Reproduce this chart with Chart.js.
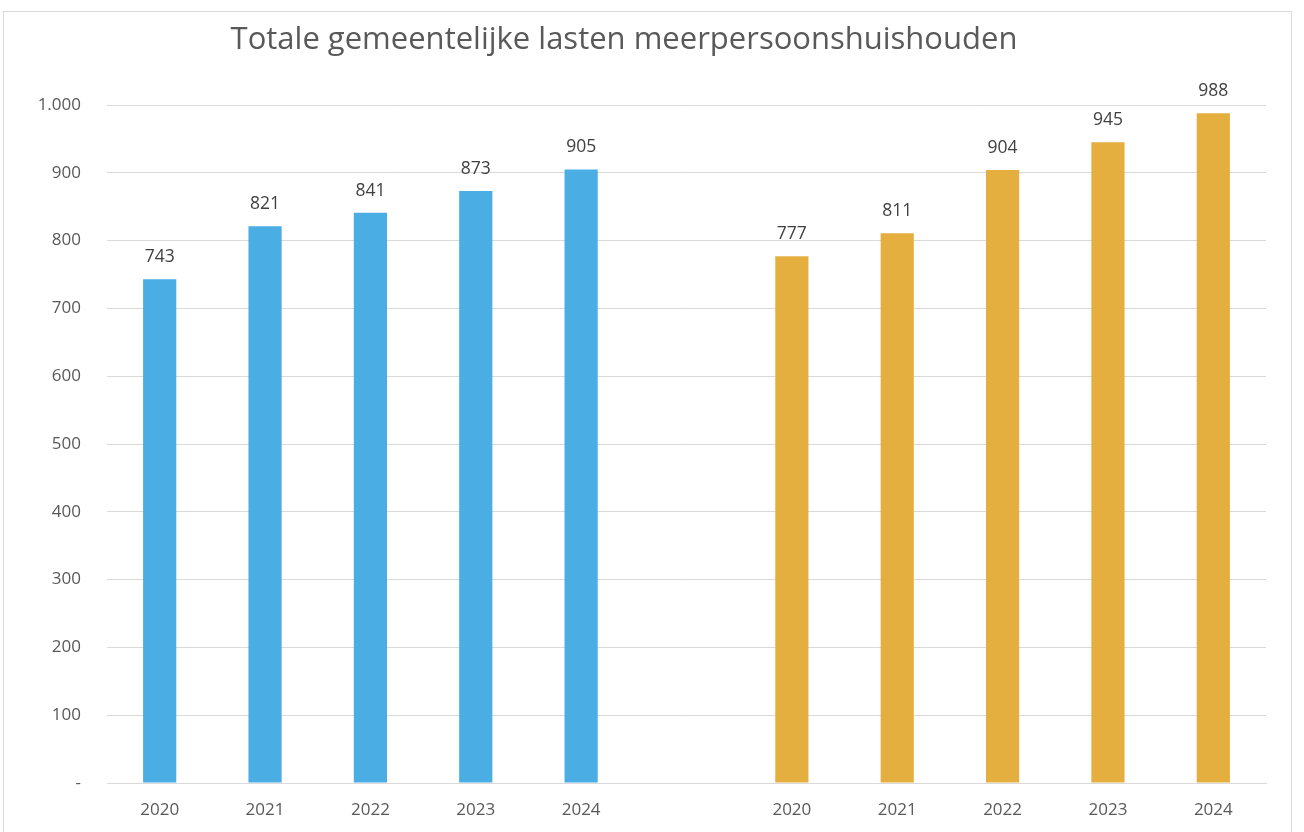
<!DOCTYPE html>
<html>
<head>
<meta charset="utf-8">
<script src="https://cdn.jsdelivr.net/npm/chart.js@4.4.0/dist/chart.umd.min.js"></script>
<style>
html,body{margin:0;padding:0;background:#fff;}
#wrap{position:absolute;left:0;top:0;width:1304px;height:832px;}
#frame{position:absolute;left:3px;top:11px;width:1289px;height:840px;border:1px solid #d9d9d9;box-sizing:border-box;}
canvas{position:absolute;left:0;top:0;}
</style>
</head>
<body>
<div id="wrap">
<div id="frame"></div>
<canvas id="c" width="1304" height="832"></canvas>
</div>
<script>
const titleText = "Totale gemeentelijke lasten meerpersoonshuishouden";
const years = ["2020", "2021", "2022", "2023", "2024"];
const blueValues = [743, 821, 841, 873, 905];
const orangeValues = [777, 811, 904, 945, 988];
const yTicks = [0, 100, 200, 300, 400, 500, 600, 700, 800, 900, 1000];

const labels = [...years, "", ...years];
const blueData = [...blueValues, ...Array(6).fill(null)];
const orangeData = [...Array(6).fill(null), ...orangeValues];

const FONT = "'Open Sans', 'Noto Sans', sans-serif";

function fmt(v) {
  if (v === 0) return "-";
  return v.toString().replace(/\B(?=(\d{3})+(?!\d))/g, ".");
}

const valueLabels = {
  id: "valueLabels",
  afterDatasetsDraw(chart) {
    const ctx = chart.ctx;
    ctx.save();
    ctx.font = "17.5px " + FONT;
    ctx.fillStyle = "#404040";
    ctx.textAlign = "center";
    ctx.textBaseline = "alphabetic";
    chart.data.datasets.forEach((ds, i) => {
      const meta = chart.getDatasetMeta(i);
      meta.data.forEach((bar, j) => {
        const v = ds.data[j];
        if (v == null) return;
        ctx.fillText(fmt(v), bar.x, bar.y - 17);
      });
    });
    ctx.restore();
  }
};

const titlePlugin = {
  id: "titlePlugin",
  afterDraw(chart) {
    const ctx = chart.ctx;
    ctx.save();
    ctx.font = "31px " + FONT;
    ctx.fillStyle = "#595959";
    ctx.textAlign = "center";
    ctx.textBaseline = "middle";
    ctx.fillText(titleText, 624, 40);
    ctx.restore();
  }
};

new Chart(document.getElementById("c"), {
  type: "bar",
  data: {
    labels: labels,
    datasets: [
      { data: blueData, backgroundColor: "#4AAEE5", grouped: false, categoryPercentage: 1, barPercentage: 0.315 },
      { data: orangeData, backgroundColor: "#E5AF40", grouped: false, categoryPercentage: 1, barPercentage: 0.315 }
    ]
  },
  options: {
    responsive: false,
    animation: false,
    layout: { padding: { top: 105, right: 38, left: 0, bottom: 0 } },
    plugins: { legend: { display: false }, tooltip: { enabled: false }, title: { display: false } },
    scales: {
      x: {
        grid: { display: false, drawTicks: false },
        border: { display: true, color: "#d9d9d9", width: 1 },
        ticks: { color: "#595959", font: { family: FONT, size: 17 }, padding: 17, maxRotation: 0, autoSkip: false },
        afterFit(s) { s.height = 49; }
      },
      y: {
        min: 0, max: 1000,
        afterBuildTicks(s) { s.ticks = yTicks.map(v => ({ value: v })); },
        grid: { color: "#d9d9d9", drawTicks: false, lineWidth: 1 },
        border: { display: false },
        ticks: { color: "#595959", font: { family: FONT, size: 17 }, padding: 26, callback: v => fmt(v) },
        afterFit(s) { s.width = 107; }
      }
    }
  },
  plugins: [valueLabels, titlePlugin]
});
</script>
</body>
</html>
